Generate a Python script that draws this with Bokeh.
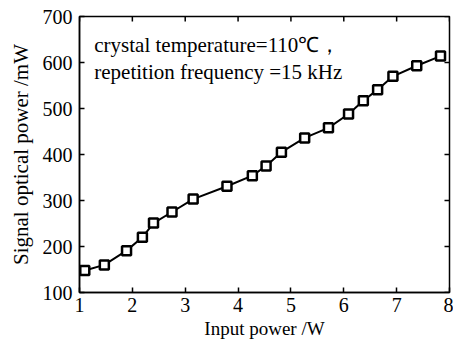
from bokeh.plotting import figure
from bokeh.models import Range1d, Label, FixedTicker
from bokeh.embed import file_html
from bokeh.resources import INLINE

input_power = [1.10, 1.47, 1.89, 2.19, 2.40, 2.75, 3.15, 3.79, 4.27, 4.53, 4.82,
               5.26, 5.71, 6.09, 6.37, 6.64, 6.93, 7.38, 7.83]
signal_power = [148, 160, 191, 220, 251, 275, 303, 331, 354, 375, 405,
                436, 458, 488, 517, 541, 570, 593, 614]
x_ticks = [1, 2, 3, 4, 5, 6, 7, 8]
y_ticks = [100, 200, 300, 400, 500, 600, 700]

FONT = "Liberation Serif"
X0, X1, Y0, Y1 = 1, 8, 100, 700
W, H = 453, 344
BL, BR, BT, BB = 79, 4, 16, 52
TICK = 5

p = figure(width=W, height=H, output_backend="svg", toolbar_location=None,
           x_range=Range1d(X0, X1), y_range=Range1d(Y0, Y1),
           min_border_left=BL, min_border_right=BR, min_border_top=BT, min_border_bottom=BB)
p.grid.visible = False
p.outline_line_color = "black"
p.outline_line_width = 1.5
p.background_fill_color = "white"
p.border_fill_color = "white"

for ax in (p.xaxis[0], p.yaxis[0]):
    ax.major_tick_in = TICK
    ax.major_tick_out = 0
    ax.minor_tick_line_color = None
    ax.axis_line_width = 1.5
    ax.major_tick_line_width = 1.5
    ax.major_label_text_font = FONT
    ax.major_label_text_font_size = "20px"
    ax.major_label_text_color = "black"
    ax.axis_label_text_font = FONT
    ax.axis_label_text_font_style = "normal"
    ax.axis_label_text_color = "black"

p.xaxis[0].ticker = FixedTicker(ticks=x_ticks)
p.yaxis[0].ticker = FixedTicker(ticks=y_ticks)
p.xaxis[0].axis_label = "Input power /W"
p.yaxis[0].axis_label = "Signal optical power /mW"
p.xaxis[0].axis_label_text_font_size = "19px"
p.yaxis[0].axis_label_text_font_size = "21px"
p.xaxis[0].major_label_standoff = 5
p.yaxis[0].major_label_standoff = 7
p.xaxis[0].axis_label_standoff = 3
p.yaxis[0].axis_label_standoff = 7

# inward ticks on the top and right edges of the box
fw = W - BL - BR
fh = H - BT - BB
dy = TICK * (Y1 - Y0) / fh
dx = TICK * (X1 - X0) / fw
p.segment(x0=x_ticks, x1=x_ticks, y0=[Y1] * len(x_ticks), y1=[Y1 - dy] * len(x_ticks),
          line_color="black", line_width=1.5)
p.segment(x0=[X1] * len(y_ticks), x1=[X1 - dx] * len(y_ticks), y0=y_ticks, y1=y_ticks,
          line_color="black", line_width=1.5)

p.line(input_power, signal_power, line_color="black", line_width=2)
p.scatter(input_power, signal_power, marker="square", size=9, fill_color="white",
          line_color="black", line_width=2.5)

lab1 = Label(x=1.28, y=637, text="crystal temperature=110℃，", text_font=FONT,
             text_font_size="21px", text_color="black", text_baseline="middle")
lab2 = Label(x=1.28, y=579, text="repetition frequency =15 kHz", text_font=FONT,
             text_font_size="21px", text_color="black", text_baseline="middle")
p.add_layout(lab1)
p.add_layout(lab2)

open("out.html", "w").write(file_html(p, INLINE))
